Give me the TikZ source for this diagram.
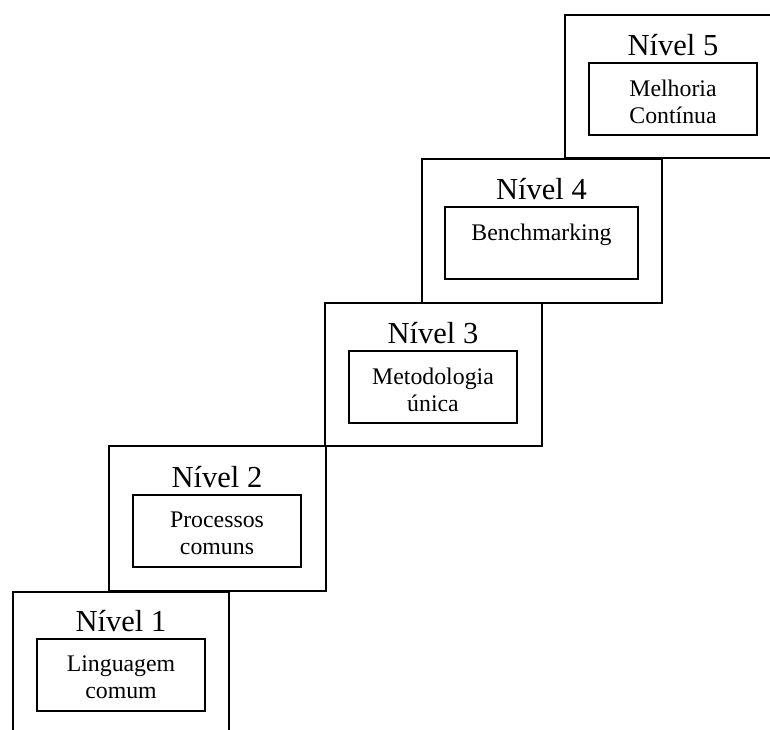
\documentclass[tikz,border=0pt]{standalone}
\usepackage{fontspec}
\setmainfont{Liberation Serif}
\tikzset{
  stage/.style={draw=black, line width=1.2pt, anchor=north west, inner sep=0pt, outer sep=0pt},
  goal/.style={draw=black, line width=1.2pt, anchor=north west, inner sep=0pt, outer sep=0pt, minimum height=72pt},
  leveltitle/.style={anchor=base, inner sep=0pt, font=\fontsize{30.5}{36}\selectfont},
  goaltext/.style={anchor=north, inner sep=0pt, align=center, font=\fontsize{23.8}{26.5}\selectfont},
}
\begin{document}
\begin{tikzpicture}[x=1pt,y=-1pt]
\clip (0,0) rectangle (770,729);
% outer step boxes
\node[stage, minimum width=216pt, minimum height=143pt] (s1) at (13,592) {};
\node[stage, minimum width=217pt, minimum height=145pt] (s2) at (109,446) {};
\node[stage, minimum width=217pt, minimum height=143pt] (s3) at (325,303) {};
\node[stage, minimum width=240pt, minimum height=144pt] (s4) at (422,159) {};
\node[stage, minimum width=216pt, minimum height=143pt] (s5) at (565,15) {};
% inner boxes
\node[goal, minimum width=168pt] (g1) at (37,639) {};
\node[goal, minimum width=168pt] (g2) at (133,495) {};
\node[goal, minimum width=168pt] (g3) at (349,351) {};
\node[goal, minimum width=193pt] (g4) at (445,207) {};
\node[goal, minimum width=168pt] (g5) at (589,63) {};
% level titles
\node[leveltitle] (t1) at (121,631) {Nível 1};
\node[leveltitle] (t2) at (217,487) {Nível 2};
\node[leveltitle] (t3) at (433,343) {Nível 3};
\node[leveltitle] (t4) at (541.5,199) {Nível 4};
\node[leveltitle] (t5) at (673,55) {Nível 5};
% box texts
\node[goaltext] (x1) at (121,656) {Linguagem\\comum};
\node[goaltext] (x2) at (217,512) {Processos\\comuns};
\node[goaltext] (x3) at (433,368) {Metodologia\\única};
\node[goaltext] (x4) at (541.5,224) {Benchmarking};
\node[goaltext] (x5) at (673,80) {Melhoria\\Contínua};
\end{tikzpicture}
\end{document}
